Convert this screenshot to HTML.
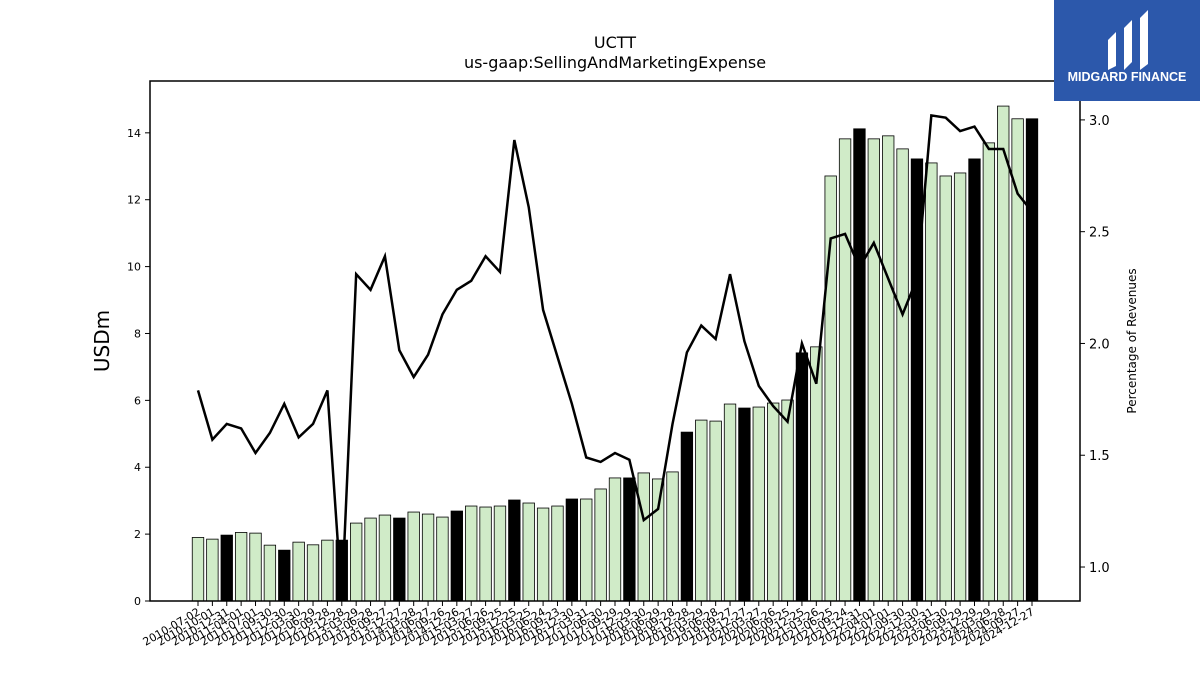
<!DOCTYPE html>
<html><head><meta charset="utf-8"><style>
html,body{margin:0;padding:0;background:#fff;width:1200px;height:675px;overflow:hidden;font-family:"Liberation Sans","DejaVu Sans",sans-serif;}
</style></head><body>
<svg id="chart" width="1200" height="675" xmlns="http://www.w3.org/2000/svg" font-family="DejaVu Sans, Liberation Sans, sans-serif">
<text x="615" y="48" text-anchor="middle" font-size="16">UCTT</text>
<text x="615" y="68" text-anchor="middle" font-size="16">us-gaap:SellingAndMarketingExpense</text>
<g id="bars"></g>
<g id="line"></g>
<rect x="150" y="81" width="930" height="520" fill="none" stroke="#000" stroke-width="1.5"/>
<g id="axes"></g>
<text transform="translate(109,341) rotate(-90)" text-anchor="middle" font-size="20">USDm</text>
<text transform="translate(1136,341) rotate(-90)" text-anchor="middle" font-size="12">Percentage of Revenues</text>
<g>
<rect x="1054" y="0" width="146" height="101" fill="#2c58ab"/>
<path d="M1108 40 L1116 32 L1116 66 L1108 70 Z M1124 28 L1132 20 L1132 62 L1124 70 Z M1140 18 L1148 10 L1148 64 L1140 70 Z" fill="#fff"/>
<text x="1127" y="81" text-anchor="middle" font-size="12.5" font-weight="bold" fill="#fff" font-family="Liberation Sans, sans-serif">MIDGARD FINANCE</text>
</g>
</svg>
<script>
const dates=["2010-07-02","2010-10-01","2010-12-31","2011-04-01","2011-07-01","2011-09-30","2011-12-30","2012-03-30","2012-06-29","2012-09-28","2012-12-28","2013-03-29","2013-06-28","2013-09-27","2013-12-27","2014-03-28","2014-06-27","2014-09-26","2014-12-26","2015-03-27","2015-06-26","2015-09-25","2015-12-25","2016-03-25","2016-06-24","2016-09-23","2016-12-30","2017-03-31","2017-06-30","2017-09-29","2017-12-29","2018-03-30","2018-06-29","2018-09-28","2018-12-28","2019-03-29","2019-06-28","2019-09-27","2019-12-27","2020-03-27","2020-06-26","2020-09-25","2020-12-25","2021-03-26","2021-06-25","2021-09-24","2021-12-31","2022-04-01","2022-07-01","2022-09-30","2022-12-30","2023-03-31","2023-06-30","2023-09-29","2023-12-29","2024-03-29","2024-06-28","2024-09-27","2024-12-27"];
const expense=[1.9,1.85,1.97,2.05,2.03,1.67,1.52,1.76,1.68,1.82,1.82,2.33,2.48,2.57,2.48,2.66,2.6,2.51,2.69,2.84,2.81,2.84,3.02,2.93,2.78,2.84,3.05,3.05,3.35,3.68,3.68,3.83,3.65,3.86,5.05,5.41,5.38,5.89,5.77,5.8,5.92,6.01,7.42,7.6,12.71,13.82,14.12,13.82,13.91,13.52,13.22,13.1,12.71,12.8,13.22,13.7,14.8,14.42,14.42];
const pctRevenue=[1.79,1.57,1.64,1.62,1.51,1.60,1.73,1.58,1.64,1.79,0.85,2.31,2.24,2.39,1.97,1.85,1.95,2.13,2.24,2.28,2.39,2.32,2.91,2.61,2.15,1.94,1.73,1.49,1.47,1.51,1.48,1.21,1.26,1.64,1.96,2.08,2.02,2.31,2.01,1.81,1.72,1.65,2.00,1.82,2.47,2.49,2.34,2.45,2.29,2.13,2.29,3.02,3.01,2.95,2.97,2.87,2.87,2.67,2.59];
const leftTicks=[0,2,4,6,8,10,12,14];
const rightTicks=[1.0,1.5,2.0,2.5,3.0];
const NS="http://www.w3.org/2000/svg";
const X0=150,X1=1080,Y0=601,Y1=81;
const yL=v=>Y0-v*(Y0-Y1)/15.55;
const yR=v=>Y0-(v-0.848)*(Y0-Y1)/(3.174-0.848);
const step=(1032-198)/(dates.length-1);
const xC=i=>198+i*step;
function mk(tag,attrs,parent){const e=document.createElementNS(NS,tag);for(const k in attrs)e.setAttribute(k,attrs[k]);parent.appendChild(e);return e;}
const bars=document.getElementById('bars'),axes=document.getElementById('axes'),line=document.getElementById('line');
const bw=step*0.8;
expense.forEach((v,i)=>{
 const r=mk('rect',{x:xC(i)-bw/2,y:yL(v),width:bw,height:Y0-yL(v),fill:(i%4===2)?'#000':'#d0ebc8',stroke:'#000','stroke-width':0.8},bars);
 
 
});
const pts=pctRevenue.map((v,i)=>xC(i)+','+yR(v)).join(' ');
const pl=mk('polyline',{points:pts,fill:'none',stroke:'#000','stroke-width':2.5},line);


leftTicks.forEach(t=>{
 const y=yL(t);
 mk('line',{x1:X0-5,x2:X0,y1:y,y2:y,stroke:'#000'},axes);
 const tx=mk('text',{x:X0-9,y:y+4,'text-anchor':'end','font-size':11},axes);tx.textContent=t;
 
 
});
rightTicks.forEach(t=>{
 const y=yR(t);
 mk('line',{x1:X1,x2:X1+5,y1:y,y2:y,stroke:'#000'},axes);
 const tx=mk('text',{x:X1+9,y:y+5,'font-size':13},axes);tx.textContent=t.toFixed(1);
 
 
});
dates.forEach((d,i)=>{
 const x=xC(i);
 mk('line',{x1:x,x2:x,y1:Y0,y2:Y0+5,stroke:'#000'},axes);
 const tx=mk('text',{transform:`translate(${x+3},${Y0+13}) rotate(-30)`,'text-anchor':'end','font-size':11},axes);tx.textContent=d;
 
 
});
</script>
</body></html>
